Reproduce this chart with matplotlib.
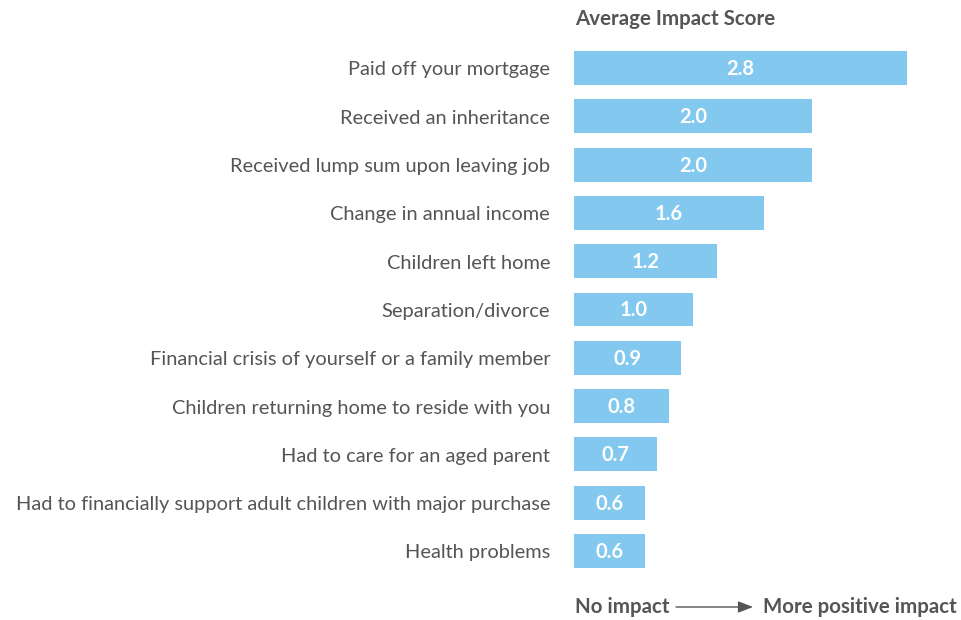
import matplotlib
matplotlib.use("Agg")
import matplotlib.pyplot as plt

categories = [
    "Paid off your mortgage",
    "Received an inheritance",
    "Received lump sum upon leaving job",
    "Change in annual income",
    "Children left home",
    "Separation/divorce",
    "Financial crisis of yourself or a family member",
    "Children returning home to reside with you",
    "Had to care for an aged parent",
    "Had to financially support adult children with major purchase",
    "Health problems",
]
scores = [2.8, 2.0, 2.0, 1.6, 1.2, 1.0, 0.9, 0.8, 0.7, 0.6, 0.6]

BAR = "#82C8EF"
TEXT = "#555555"
FONT = "Lato"

fig = plt.figure(figsize=(9.61, 6.20), dpi=100)
ax = fig.add_axes([574 / 961, 1 - 575.15 / 620, 380 / 961, (575.15 - 43.85) / 620])

ypos = list(range(len(categories)))
ax.barh(ypos, scores, height=0.70, color=BAR, left=0)
ax.set_xlim(0, 3.2)
ax.set_ylim(len(categories) - 0.5, -0.5)

for y, v, lab in zip(ypos, scores, categories):
    ax.text(v / 2, y + 0.02, f"{v:.1f}", ha="center", va="center", color="white",
            fontsize=14.5, fontweight="bold", family=FONT)
    ax.text(-0.2, y + 0.04, lab, ha="right", va="center", color=TEXT,
            fontsize=14.4, family=FONT)

ax.axis("off")

fig.text(575 / 961, 1 - 19 / 620, "Average Impact Score", ha="left", va="center",
         color=TEXT, fontsize=14.8, fontweight="bold", family=FONT)

fig.text(575 / 961, 1 - 607 / 620, "No impact", ha="left", va="center",
         color=TEXT, fontsize=14.8, fontweight="bold", family=FONT)
fig.text(957 / 961, 1 - 607 / 620, "More positive impact", ha="right", va="center",
         color=TEXT, fontsize=14.8, fontweight="bold", family=FONT)
fig.add_artist(matplotlib.patches.FancyArrowPatch(
    (676 / 961, 1 - 607 / 620), (753 / 961, 1 - 607 / 620),
    transform=fig.transFigure, arrowstyle="-|>,head_length=9,head_width=3.5",
    color=TEXT, lw=1.0, mutation_scale=1.0, shrinkA=0, shrinkB=0))

fig.savefig("out.png", dpi=100, facecolor="white")
